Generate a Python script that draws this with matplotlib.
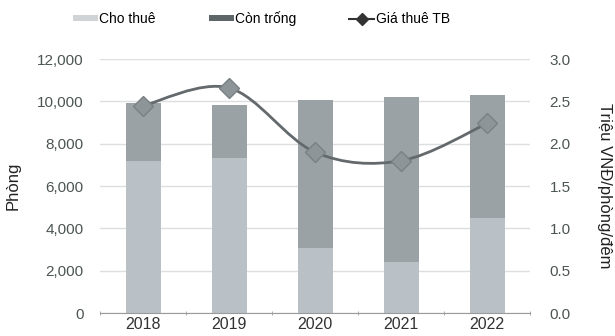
import matplotlib
matplotlib.use("Agg")
import matplotlib.pyplot as plt
import numpy as np
from matplotlib.path import Path
from matplotlib.patches import PathPatch, Patch
from matplotlib.lines import Line2D

plt.rcParams['font.family'] = ['Liberation Sans', 'DejaVu Sans']

years = ["2018", "2019", "2020", "2021", "2022"]
rented = [7200, 7350, 3100, 2400, 4500]          # Cho thuê
vacant = [2750, 2500, 6950, 7800, 5800]          # Còn trống
avg_price = [2.45, 2.66, 1.90, 1.80, 2.24]       # Giá thuê TB (triệu VNĐ/phòng/đêm)

left_ticks = [0, 2000, 4000, 6000, 8000, 10000, 12000]
right_ticks = [0.0, 0.5, 1.0, 1.5, 2.0, 2.5, 3.0]

c_rented = "#b9c1c6"
c_vacant = "#9aa2a6"
c_line = "#63696c"
c_marker = "#8d9598"
c_text = "#4b5552"
c_grid = "#dcdfe0"

fig = plt.figure(figsize=(6.15, 3.36), dpi=100)
ax = fig.add_axes([0.163, 0.068, 0.699, 0.756])
ax2 = ax.twinx()

x = np.arange(len(years))
ax.bar(x, rented, width=0.41, color=c_rented, zorder=2)
ax.bar(x, vacant, width=0.41, bottom=rented, color=c_vacant, zorder=2)

ax.set_xlim(-0.5, len(years) - 0.5)
ax.set_ylim(0, 12000)
ax.set_yticks(left_ticks)
ax.set_yticklabels([f"{v:,}" for v in left_ticks])
ax.set_xticks(x)
ax.set_xticklabels(years)
ax.set_xticks(np.arange(-0.5, len(years)), minor=True)
ax.tick_params(axis='x', which='major', length=0, pad=3, labelsize=11.5, colors="#333333")
ax.tick_params(axis='x', which='minor', length=3, color="#999999", direction='inout')
ax.tick_params(axis='y', length=0, pad=12, labelsize=11, labelcolor=c_text)
ax.yaxis.grid(True, color=c_grid, linewidth=1.0, zorder=0)
ax.set_axisbelow(True)
for s in ["top", "right", "left"]:
    ax.spines[s].set_visible(False)
ax.spines["bottom"].set_color("#9a9a9a")
ax.set_ylabel("Phòng", fontsize=12, color="#222222", labelpad=12)

# smooth price curve (Catmull-Rom through the data points)
pts = np.column_stack([x, avg_price]).astype(float)
verts = [tuple(pts[0])]
codes = [Path.MOVETO]
n = len(pts)
for i in range(n - 1):
    p0 = pts[i - 1] if i > 0 else pts[i]
    p1 = pts[i]
    p2 = pts[i + 1]
    p3 = pts[i + 2] if i + 2 < n else pts[i + 1]
    c1 = p1 + (p2 - p0) / 6.0
    c2 = p2 - (p3 - p1) / 6.0
    verts += [tuple(c1), tuple(c2), tuple(p2)]
    codes += [Path.CURVE4] * 3
ax2.add_patch(PathPatch(Path(verts, codes), facecolor="none", edgecolor=c_line,
                        linewidth=2.0, zorder=3))
ax2.plot(x, avg_price, linestyle="none", marker="D", markersize=10,
         markerfacecolor=c_marker, markeredgecolor="#7a8184", markeredgewidth=1.0, zorder=4)

ax2.set_ylim(0, 3.0)
ax2.set_yticks(right_ticks)
ax2.set_yticklabels([f"{v:.1f}" for v in right_ticks])
ax2.tick_params(axis='y', length=0, pad=14, labelsize=11, labelcolor=c_text)
for s in ["top", "right", "left", "bottom"]:
    ax2.spines[s].set_visible(False)
ax2.set_ylabel("Triệu VNĐ/phòng/đêm", fontsize=12, color="#222222", rotation=-90, labelpad=30)

handles = [
    Patch(facecolor="#cfd3d5", edgecolor="none", label="Cho thuê"),
    Patch(facecolor="#5f6669", edgecolor="none", label="Còn trống"),
    Line2D([0], [0], color="#333333", linewidth=1.5, marker="D", markersize=6,
           markerfacecolor="#333333", label="Giá thuê TB"),
]
fig.legend(handles=handles, loc="center", bbox_to_anchor=(0.425, 0.945), ncol=3,
           frameon=False, fontsize=10, handlelength=1.8, handleheight=0.35,
           handletextpad=0.1, columnspacing=3.8)

fig.savefig("out.png", dpi=100, facecolor="white")
